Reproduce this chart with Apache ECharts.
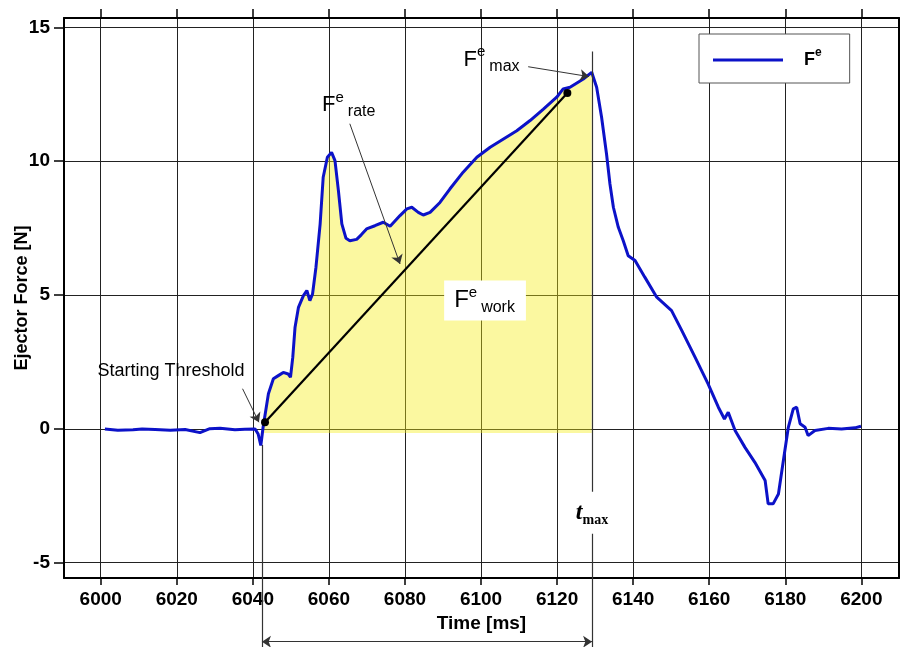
<!DOCTYPE html>
<html>
<head>
<meta charset="utf-8">
<script src="https://cdn.jsdelivr.net/npm/echarts@6/dist/echarts.min.js"></script>
<style>html,body{margin:0;padding:0;background:#fff}#c{width:900px;height:647px}</style>
</head>
<body>
<div id="c"></div>
<script>
// ---- data ----
const times = [6001.1,6004.5,6008.5,6010.9,6014.3,6018.3,6022.2,6026.1,6028.7,6031.4,6035.3,6037.9,6040.6,
  6041.4,6042.1,6042.7,6044.1,6045.4,6046.7,6048.0,6049.3,6049.9,6050.5,6051.1,6052.0,6053.3,6054.2,6055.0,6055.7,
  6056.6,6057.7,6058.5,6059.6,6060.7,6061.6,6062.5,6063.4,6064.5,6065.5,6067.3,6068.5,6069.9,6072.1,6074.3,6076.1,
  6078.7,6080.5,6081.8,6083.5,6084.8,6086.6,6089.2,6091.8,6095.3,6098.9,6102.4,6105.9,6109.4,6112.9,6116.4,6119.9,
  6121.6,6123.4,6126.9,6129.1,6130.4,6131.7,6133.0,6133.9,6134.8,6136.1,6137.4,6138.7,6140.5,6143.1,6146.2,6150.1,
  6152.8,6156.3,6159.7,6162.4,6164.0,6165.0,6166.8,6169.4,6172.0,6174.7,6175.5,6176.8,6178.2,6179.5,6180.8,6182.1,
  6183.0,6183.9,6185.2,6186.0,6187.8,6191.3,6194.8,6198.3,6199.9];
const force = [0.0,-0.05,-0.03,0.0,-0.02,-0.05,-0.02,-0.14,0.01,0.02,-0.03,-0.01,0.0,
  -0.19,-0.62,0.06,1.31,1.87,1.99,2.11,2.05,1.93,2.67,3.8,4.54,4.98,5.17,4.79,5.04,
  6.04,7.66,9.4,10.15,10.33,10.02,8.9,7.66,7.12,7.03,7.08,7.25,7.47,7.59,7.72,7.57,
  7.97,8.22,8.28,8.09,7.99,8.09,8.46,8.96,9.59,10.15,10.52,10.83,11.14,11.52,11.95,12.39,
  12.7,12.76,13.07,13.32,12.76,11.64,10.27,9.15,8.28,7.53,7.03,6.47,6.29,5.66,4.92,4.42,
  3.67,2.67,1.68,0.81,0.37,0.62,-0.06,-0.69,-1.25,-1.93,-2.8,-2.8,-2.43,-1.18,0.06,0.75,
  0.81,0.19,0.06,-0.25,-0.06,0.02,0.0,0.04,0.1];
const xTickValues = [6000,6020,6040,6060,6080,6100,6120,6140,6160,6180,6200];
const yTickValues = [-5,0,5,10,15];
const workRange = [6042.7, 6129.1];      // F^e_work integration window
const workBase = -0.15;
const thresholdPoint = [6043.2, 0.25];
const ratePoint = [6122.7, 12.55];
const tStart = 6042.4;
const tMax = 6129.2;
// annotation anchors [t, F]
const arrowThreshold = [[6037.3, 1.50], [6041.6, 0.25]];
const arrowRate = [[6065.5, 11.4], [6078.7, 6.16]];
const arrowMax = [[6112.4, 13.53], [6128.4, 13.16]];
const spanY = -7.95;
const startLine = [[tStart, -0.6], [tStart, -8.4]];
const maxLine = [[tMax, 14.1], [tMax, -8.4]];
const labelThreshold = [6018.5, 2.16];
const labelRate = [6058.2, 12.1];
const labelMax = [6095.4, 13.8];
const labelWork = [6090.3, 4.8];
const labelTmax = [6124.4, -3.13];

// ---- build ----
const curve = times.map((t, i) => [t, force[i]]);
const fillData = curve.filter(p => p[0] >= workRange[0] && p[0] <= workRange[1]);

const FONT = 'Liberation Sans, Arial, sans-serif';
const SERIF = 'Liberation Serif, Times New Roman, serif';
const BLUE = '#0c12c8';

function fRich() {
  return {
    F: {fontSize: 22, lineHeight: 30, fontFamily: FONT, color: '#000'},
    e: {fontSize: 15, lineHeight: 28, verticalAlign: 'top', fontFamily: FONT, color: '#000'},
    s: {fontSize: 16, lineHeight: 14, verticalAlign: 'bottom', fontFamily: FONT, color: '#000', padding: [0, 0, 0, 4]}
  };
}

const xBase = {
  type: 'value', min: 5990.35, max: 6209.9
};
const chart = echarts.init(document.getElementById('c'), null, {renderer: 'canvas'});
chart.setOption({
  animation: false,
  backgroundColor: '#fff',
  grid: {left: 64, right: 1, top: 18, bottom: 69, containLabel: false, outerBoundsMode: 'none'},
  legend: {
    data: ['Fe'],
    left: 699, top: 34,
    orient: 'horizontal',
    selectedMode: false,
    icon: 'rect',
    itemWidth: 70, itemHeight: 3,
    itemStyle: {color: BLUE},
    padding: [13, 28, 14, 14],
    borderColor: '#555', borderWidth: 1,
    backgroundColor: '#fff',
    formatter: () => '{F|F}{e|e}',
    textStyle: {
      rich: {
        F: {fontSize: 18, fontWeight: 'bold', fontFamily: FONT, color: '#000', lineHeight: 26, padding: [0, 0, 0, 16]},
        e: {fontSize: 12, fontWeight: 'bold', fontFamily: FONT, color: '#000', lineHeight: 22, verticalAlign: 'top'}
      }
    }
  },
  xAxis: [
    Object.assign({}, xBase, {
      position: 'bottom',
      name: 'Time [ms]', nameLocation: 'middle', nameGap: 34,
      nameTextStyle: {fontSize: 19, fontWeight: 'bold', fontFamily: FONT, color: '#000'},
      axisLine: {show: true, onZero: false, lineStyle: {color: '#000', width: 2}},
      axisTick: {show: true, customValues: xTickValues, length: 7, lineStyle: {color: '#000', width: 1.5}},
      axisLabel: {customValues: xTickValues, formatter: v => String(v), fontSize: 19, fontWeight: 'bold', fontFamily: FONT, color: '#000', margin: 12},
      splitLine: {show: true, lineStyle: {color: '#222', width: 1}}
    }),
    Object.assign({}, xBase, {
      position: 'top',
      axisLine: {show: true, onZero: false, lineStyle: {color: '#000', width: 2}},
      axisTick: {show: true, customValues: xTickValues, length: 9, lineStyle: {color: '#000', width: 1.5}},
      axisLabel: {show: false},
      splitLine: {show: false}
    })
  ],
  yAxis: [
    {
      type: 'value', min: -5.57, max: 15.35, position: 'left',
      name: 'Ejector Force [N]', nameLocation: 'middle', nameGap: 33, nameMoveOverlap: false,
      nameTextStyle: {fontSize: 18, fontWeight: 'bold', fontFamily: FONT, color: '#000'},
      axisLine: {show: true, onZero: false, lineStyle: {color: '#000', width: 2}},
      axisTick: {show: true, customValues: yTickValues, length: 10, lineStyle: {color: '#000', width: 1.5}},
      axisLabel: {customValues: yTickValues, formatter: v => String(v), fontSize: 19, fontWeight: 'bold', fontFamily: FONT, color: '#000', margin: 14},
      splitLine: {show: true, lineStyle: {color: '#222', width: 1}}
    },
    {
      type: 'value', min: -5.57, max: 15.35, position: 'right',
      axisLine: {show: true, onZero: false, lineStyle: {color: '#000', width: 2}},
      axisTick: {show: false}, axisLabel: {show: false}, splitLine: {show: false}
    }
  ],
  series: [
    {
      name: 'work', type: 'line', data: fillData, symbol: 'none', silent: true, z: 1,
      lineStyle: {width: 0, opacity: 0},
      areaStyle: {color: 'rgba(245,238,18,0.4)', origin: workBase, opacity: 1}
    },
    {
      name: 'Fe', type: 'line', data: curve, symbol: 'none', z: 3,
      lineStyle: {color: BLUE, width: 3}, itemStyle: {color: BLUE}
    },
    {
      name: 'rate', type: 'line', data: [thresholdPoint, ratePoint], z: 4,
      symbol: 'circle', symbolSize: 8, showSymbol: true,
      itemStyle: {color: '#000'}, lineStyle: {color: '#000', width: 2.2}
    },
    {
      name: 'arrows', type: 'lines', coordinateSystem: 'cartesian2d', z: 5, clip: false, silent: true,
      symbol: ['none', 'arrow'], symbolSize: 9,
      lineStyle: {color: '#333', width: 1, opacity: 1},
      data: [
        {coords: arrowThreshold},
        {coords: arrowRate},
        {coords: arrowMax}
      ]
    },
    {
      name: 'span', type: 'lines', coordinateSystem: 'cartesian2d', z: 5, clip: false, silent: true,
      symbol: ['arrow', 'arrow'], symbolSize: 9,
      lineStyle: {color: '#333', width: 1, opacity: 1},
      data: [{coords: [[tStart, spanY], [tMax, spanY]]}]
    },
    {
      name: 'guides', type: 'lines', coordinateSystem: 'cartesian2d', z: 5, clip: false, silent: true,
      symbol: ['none', 'none'],
      lineStyle: {color: '#333', width: 1.2, opacity: 1},
      data: [{coords: startLine}, {coords: maxLine}]
    },
    {
      name: 'labels', type: 'scatter', z: 10, symbolSize: 0, silent: true,
      itemStyle: {opacity: 1},
      data: [
        {value: labelThreshold, label: {show: true, position: 'inside', formatter: 'Starting Threshold',
          fontSize: 18, fontFamily: FONT, color: '#000', opacity: 1}},
        {value: labelRate, label: {show: true, position: 'right', distance: 0, formatter: '{F|F}{e|e}{s|rate}', rich: fRich(), opacity: 1}},
        {value: labelMax, label: {show: true, position: 'right', distance: 0, formatter: '{F|F}{e|e}{s|max}', rich: fRich(), opacity: 1}},
        {value: labelWork, label: {show: true, position: 'right', distance: 0, formatter: '{F|F}{e|e}{s|work}', opacity: 1,
          rich: Object.assign(fRich(), {F: {fontSize: 24, lineHeight: 30, fontFamily: FONT, color: '#000'}}),
          backgroundColor: '#fff', padding: [5, 11, 5, 10]}},
        {value: labelTmax, label: {show: true, position: 'right', distance: 0, formatter: '{t|t}{m|max}', opacity: 1,
          backgroundColor: '#fff', padding: [6, 2, 6, 2],
          rich: {
            t: {fontSize: 24, lineHeight: 30, fontFamily: SERIF, fontStyle: 'italic', fontWeight: 'bold', color: '#000'},
            m: {fontSize: 14, lineHeight: 14, fontFamily: SERIF, fontWeight: 'bold', color: '#000', verticalAlign: 'bottom'}
          }}}
      ]
    }
  ]
});
</script>
</body>
</html>
